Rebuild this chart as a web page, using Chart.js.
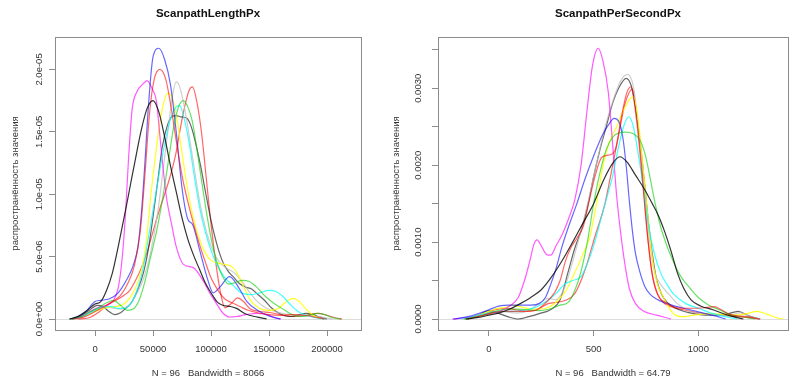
<!DOCTYPE html>
<html><head><meta charset="utf-8">
<script src="https://cdn.jsdelivr.net/npm/chart.js@4/dist/chart.umd.min.js"></script>
<style>
html,body{margin:0;padding:0;background:#fff;overflow:hidden;width:789px;height:385px;}
#c1{position:absolute;left:0;top:0;}
#c2{position:absolute;left:385px;top:0;}
</style></head><body>
<canvas id="c1" width="416" height="385"></canvas>
<canvas id="c2" width="466" height="385"></canvas>
<script>
// ---------- Panel 1: ScanpathLengthPx (x in thousands of px, density in 1e-6) ----------
const titleL = "ScanpathLengthPx";
const xLabelL = "N = 96   Bandwidth = 8066";
const xTicksL = [0, 50000, 100000, 150000, 200000];
const xTickLabelsL = ["0", "50000", "100000", "150000", "200000"];
const yTicksL = [0, 5e-6, 1e-5, 1.5e-5, 2e-5];
const yTickLabelsL = ["0.0e+00", "5.0e-06", "1.0e-05", "1.5e-05", "2.0e-05"];

const magentaL = [[-20,0],[-12,0.2],[-5,0.55],[2,0.9],[10,1.1],[16,1.5],[20,2.5],[23,4.5],[26,8],[29,13],[32,16.8],[36,18.2],[41,18.8],[45,19.1],[49,18.5],[53,17.4],[56,14.6],[59,11.8],[62,9.5],[66,7.6],[70,5.8],[76,4.4],[85,4.1],[93,3.1],[100,1.9],[105,1.2],[110,0.5],[116,0.16],[122,0.2],[130,0.35],[140,0.45],[148,0.35],[155,0.1],[160,0]];
const blueL = [[-22,0],[-15,0.15],[-8,0.6],[0,1.4],[5,1.5],[12,1.6],[20,2.1],[27,3.1],[33,4.3],[37,5.8],[40,8.5],[43,12.5],[46,17],[50,21],[55,21.7],[60,20.8],[65,18.8],[70,15],[75,10.5],[80,8],[84,7.6],[90,5.6],[97,3.2],[102,2.1],[108,2.6],[116,3.4],[124,2.5],[131,1.4],[140,0.7],[150,0.25],[160,0]];
const redL1 = [[-20,0],[-10,0.15],[0,0.6],[8,1.0],[15,1.4],[22,1.9],[28,2.8],[34,4.3],[39,7],[43,11.5],[47,16.5],[51,19.2],[56,20],[61,19.2],[65,17.3],[70,14.3],[75,11.5],[80,9.4],[85,7.6],[90,6],[95,4.6],[100,3.3],[106,2.3],[112,1.6],[118,1.3],[125,1.0],[132,0.7],[140,0.5],[150,0.35],[160,0.3],[170,0.35],[180,0.3],[190,0.15],[198,0]];
const redL2 = [[-15,0],[-5,0.1],[4,0.6],[12,1.2],[20,1.6],[25,1.9],[30,2.3],[35,3.1],[40,4.1],[45,5.4],[50,7],[55,8.6],[60,10],[65,11.5],[70,13.4],[74,15.5],[78,17.3],[81,18.3],[84,18.6],[88,17.3],[92,14.8],[96,11.2],[100,7.6],[104,4.6],[108,2.2],[112,0.9],[117,1.2],[123,1.7],[128,1.4],[134,0.8],[142,0.6],[152,0.5],[162,0.3],[172,0.2],[182,0.3],[192,0.45],[200,0.3],[207,0.1],[213,0]];
const blackL = [[-22,0],[-15,0.2],[-8,0.6],[0,1.2],[5,1.4],[10,2.3],[15,3.7],[20,5.8],[25,8.1],[30,10.5],[35,12.9],[40,15.2],[45,16.9],[50,17.5],[55,16.6],[60,14.6],[65,12.3],[70,10.2],[75,8.1],[80,6.4],[85,5.1],[90,4],[95,2.9],[100,2.1],[105,1.4],[110,1.1],[117,1.0],[122,0.85],[130,0.4],[140,0.15],[148,0]];
const yellowL = [[-20,0],[-10,0.2],[0,0.6],[10,0.9],[18,1.0],[25,1.2],[30,1.7],[35,2.5],[40,3.9],[44,6],[48,9.8],[52,13],[56,15.8],[60,17.6],[63,18.1],[67,17.6],[71,15.8],[75,13.3],[80,10.3],[85,8],[90,6.4],[95,5.3],[100,4.7],[110,4.4],[118,4.2],[123,3.6],[128,2.6],[134,1.5],[142,0.85],[150,0.7],[158,0.85],[165,1.4],[171,1.65],[176,1.4],[182,0.8],[188,0.3],[195,0]];
const greyL = [[-20,0],[-10,0.2],[0,0.7],[8,0.95],[15,0.9],[22,0.8],[28,1.0],[34,1.7],[40,2.8],[45,4.2],[50,6.3],[55,9.2],[59,12.2],[63,15.2],[67,18],[70,19],[73,18.6],[77,17],[81,14.8],[86,11.8],[91,9],[96,7],[101,5.6],[107,4.6],[113,4.1],[120,3.7],[126,3.1],[132,2.3],[139,1.5],[147,0.9],[155,0.6],[165,0.4],[175,0.3],[185,0.3],[195,0.15],[205,0]];
const cyanL = [[-20,0],[-10,0.2],[0,0.7],[8,1.0],[14,1.0],[20,0.85],[26,0.85],[32,1.4],[37,2.5],[42,4.3],[46,6.5],[50,8.7],[55,11.5],[60,14],[65,16],[70,17],[73,17.1],[77,16],[81,14.2],[85,11.8],[90,9],[95,7],[100,5.5],[106,4.2],[112,3.3],[119,2.7],[126,2.1],[134,1.95],[142,2.1],[150,2.3],[156,2.2],[162,1.8],[168,1.2],[175,0.6],[182,0.3],[190,0.1],[198,0]];
const greenL = [[-22,0],[-12,0.2],[-4,0.6],[3,0.9],[10,1.3],[16,1.5],[22,1.1],[28,0.7],[33,0.8],[38,1.5],[43,3],[48,5],[53,7],[58,9.5],[63,12.5],[68,15.5],[72,17],[76,17.5],[80,17],[84,15.8],[88,13.5],[92,11],[96,8.6],[100,6.5],[105,4.6],[110,3.4],[115,2.8],[120,2.9],[127,3.1],[133,3],[140,2.5],[147,1.8],[155,1.2],[162,0.8],[170,0.35],[178,0.2],[185,0.3],[192,0.45],[198,0.35],[205,0.1],[212,0]];
const black2L = [[-20,0],[-12,0.25],[-5,0.7],[2,1.1],[7,1.0],[12,0.6],[17,0.35],[22,0.5],[27,0.9],[32,1.4],[37,2.4],[42,3.8],[46,5.6],[50,8.2],[54,11],[58,13.8],[62,15.4],[66,16.2],[70,16.3],[74,16.2],[79,16.1],[83,15.4],[87,14],[91,12.3],[95,10.3],[100,7.9],[105,6],[110,4.6],[115,3.8],[120,3.3],[125,2.8],[130,2.55],[135,2.4],[140,2],[146,1.5],[152,0.9],[158,0.5],[164,0.25],[170,0.2],[176,0.35],[182,0.45],[188,0.35],[194,0.15],[200,0]];

// ---------- Panel 2: ScanpathPerSecondPx (x in px/s, density in 1e-3) ----------
const titleR = "ScanpathPerSecondPx";
const xLabelR = "N = 96   Bandwidth = 64.79";
const xTicksR = [0, 500, 1000];
const xTickLabelsR = ["0", "500", "1000"];
const yTicksR = [0, 0.0005, 0.001, 0.0015, 0.002, 0.0025, 0.003, 0.0035];
const yTickLabelsR = ["0.0000", "", "0.0010", "", "0.0020", "", "0.0030", ""];

const magentaR = [[-175,0],[-100,0.02],[0,0.07],[50,0.1],[100,0.17],[140,0.28],[170,0.5],[195,0.75],[215,0.97],[230,1.03],[250,0.95],[275,0.84],[295,0.83],[320,0.95],[350,1.1],[380,1.3],[410,1.55],[440,2.0],[470,2.75],[495,3.3],[522,3.52],[545,3.35],[570,2.95],[590,2.3],[610,1.6],[630,1.1],[650,0.7],[670,0.4],[700,0.2],[740,0.1],[800,0.05],[870,0]];
const blueR = [[-170,0],[-100,0.03],[-50,0.07],[0,0.12],[50,0.17],[100,0.18],[150,0.18],[200,0.18],[240,0.2],[270,0.28],[295,0.45],[320,0.65],[350,0.95],[380,1.2],[420,1.5],[460,1.83],[500,2.12],[540,2.38],[570,2.52],[598,2.61],[620,2.57],[640,2.35],[657,1.95],[670,1.55],[685,1.15],[700,0.85],[720,0.62],[745,0.42],[770,0.32],[800,0.26],[840,0.21],[900,0.16],[960,0.12],[1020,0.08],[1080,0.04],[1130,0]];
const blackR = [[-110,0],[-50,0.02],[0,0.05],[50,0.08],[100,0.13],[150,0.2],[200,0.28],[250,0.38],[300,0.55],[350,0.76],[400,1.0],[450,1.25],[500,1.5],[550,1.82],[590,2.02],[625,2.11],[660,2.04],[700,1.87],[740,1.7],[780,1.5],[810,1.34],[840,1.13],[870,0.88],[900,0.6],[930,0.4],[965,0.25],[1010,0.17],[1070,0.12],[1140,0.05],[1215,0]];
const black2R = [[-100,0],[-50,0.05],[0,0.11],[40,0.08],[90,0.03],[140,0.0],[190,0.03],[240,0.07],[300,0.13],[340,0.25],[380,0.63],[410,0.92],[440,1.15],[470,1.45],[500,1.85],[530,2.2],[560,2.5],[590,2.8],[625,3.03],[655,3.13],[680,3.03],[700,2.75],[720,2.35],[740,1.85],[760,1.3],[780,0.85],[800,0.52],[825,0.32],[850,0.22],[900,0.13],[960,0.08],[1050,0.05],[1130,0.06],[1190,0.1],[1240,0.04],[1295,0]];
const greyR = [[-120,0],[-50,0.04],[0,0.09],[60,0.1],[120,0.08],[180,0.1],[240,0.2],[280,0.27],[320,0.25],[360,0.4],[400,0.75],[440,1.15],[480,1.6],[520,2.1],[560,2.55],[600,2.9],[630,3.1],[662,3.18],[690,3.02],[710,2.6],[730,2.05],[750,1.45],[770,0.95],[790,0.62],[820,0.45],[860,0.32],[900,0.2],[960,0.1],[1050,0.06],[1150,0.05],[1200,0.08],[1250,0.03],[1300,0]];
const redR1 = [[-110,0],[-40,0.04],[0,0.07],[60,0.1],[120,0.1],[180,0.1],[220,0.11],[267,0.2],[315,0.35],[340,0.5],[365,0.75],[390,0.92],[420,1.05],[450,1.2],[480,1.55],[506,1.85],[538,2.1],[570,2.13],[602,2.19],[633,2.63],[657,2.93],[678,3.02],[705,2.58],[729,1.93],[753,1.2],[777,0.63],[809,0.3],[840,0.22],[880,0.16],[944,0.14],[1000,0.14],[1040,0.15],[1075,0.16],[1110,0.12],[1150,0.06],[1230,0.03],[1294,0]];
const redR2 = [[-115,0],[-35,0.05],[30,0.12],[80,0.14],[130,0.12],[180,0.1],[220,0.11],[283,0.2],[330,0.22],[363,0.24],[410,0.33],[458,0.63],[506,1.07],[554,1.5],[586,1.93],[618,2.37],[650,2.8],[685,2.99],[705,2.67],[732,1.93],[758,1.07],[785,0.5],[825,0.24],[870,0.16],[930,0.12],[1000,0.08],[1080,0.06],[1150,0.04],[1230,0.02],[1290,0]];
const yellowR = [[-110,0],[-50,0.05],[0,0.1],[40,0.14],[80,0.15],[110,0.18],[150,0.16],[200,0.13],[250,0.13],[290,0.16],[330,0.24],[370,0.38],[410,0.6],[450,0.85],[480,1.05],[500,1.3],[520,1.6],[545,2.0],[575,2.3],[610,2.5],[640,2.7],[670,2.85],[690,2.89],[710,2.65],[735,2.0],[760,1.3],[785,0.7],[805,0.45],[830,0.3],[855,0.17],[880,0.07],[920,0.03],[980,0.05],[1050,0.07],[1120,0.06],[1180,0.05],[1230,0.07],[1280,0.1],[1330,0.06],[1370,0.02],[1405,0]];
const cyanR = [[-130,0],[-60,0.04],[0,0.08],[60,0.1],[120,0.1],[180,0.12],[230,0.16],[280,0.24],[320,0.33],[360,0.45],[400,0.5],[440,0.55],[470,0.72],[500,0.95],[530,1.25],[560,1.55],[590,1.85],[620,2.25],[645,2.52],[668,2.63],[690,2.5],[710,2.2],[730,1.85],[760,1.25],[790,0.85],[820,0.6],[850,0.45],[880,0.33],[940,0.2],[1000,0.14],[1070,0.07],[1130,0.03],[1185,0]];
const greenR = [[-120,0],[-50,0.03],[0,0.07],[60,0.12],[120,0.13],[180,0.12],[240,0.11],[290,0.13],[340,0.18],[380,0.22],[410,0.37],[440,0.62],[470,1.0],[500,1.5],[530,1.9],[560,2.2],[590,2.36],[620,2.42],[650,2.43],[690,2.41],[720,2.33],[745,2.15],[765,1.9],[790,1.55],[820,1.2],[850,0.95],[880,0.75],[910,0.58],[945,0.45],[1000,0.28],[1050,0.18],[1100,0.12],[1160,0.05],[1230,0.02],[1270,0]];

// ---------- styling ----------
const FONT = "'Liberation Sans', Arial, Helvetica, sans-serif";
const COL = {
  black: 'rgba(0,0,0,0.8)', red: 'rgba(255,0,0,0.6)', green: 'rgba(0,205,0,0.6)', blue: 'rgba(0,0,255,0.6)',
  cyan: 'rgba(0,255,255,0.75)', magenta: 'rgba(255,0,255,0.65)', yellow: 'rgba(255,255,0,0.85)',
  gray: 'rgba(190,190,190,0.75)', black2: 'rgba(0,0,0,0.6)', red2: 'rgba(255,0,0,0.6)'
};

function ds(pairs, color, xs, ys) {
  return {
    data: pairs.map(p => ({x: p[0] * xs, y: p[1] * ys})),
    borderColor: color, borderWidth: 1.2, pointRadius: 0, fill: false,
    cubicInterpolationMode: 'monotone'
  };
}

const boxPlugin = {
  id: 'box',
  beforeDatasetsDraw(chart) {
    const a = chart.chartArea, c = chart.ctx;
    c.save(); c.strokeStyle = '#8c8c8c'; c.lineWidth = 1;
    c.strokeRect(Math.round(a.left) + 0.5, Math.round(a.top) + 0.5, Math.round(a.right - a.left), Math.round(a.bottom - a.top));
    c.restore();
  }
};

function makeChart(id, cfg) {
  return new Chart(document.getElementById(id), {
    type: 'line',
    data: { datasets: cfg.datasets },
    plugins: [boxPlugin],
    options: {
      responsive: false, animation: false, devicePixelRatio: 1,
      layout: { padding: 0 },
      plugins: {
        legend: { display: false }, tooltip: { enabled: false },
        title: { display: true, text: cfg.title, color: '#111',
          font: { family: FONT, size: 11.5, weight: 'bold' }, padding: { top: 7.1, bottom: 16.1 } }
      },
      scales: {
        x: {
          type: 'linear', min: cfg.xMin, max: cfg.xMax,
          afterBuildTicks: s => { s.ticks = cfg.xTicks.map(v => ({value: v})); },
          afterFit: s => { s.height = 55; },
          ticks: { callback: (v, i) => cfg.xTickLabels[i], font: { family: FONT, size: 9.5 }, color: '#333',
            padding: 7.3, autoSkip: false, maxRotation: 0, minRotation: 0 },
          grid: { drawOnChartArea: false, drawTicks: true, tickLength: 6, tickColor: '#8c8c8c', tickWidth: 1 },
          border: { display: false },
          title: { display: true, text: cfg.xLabel, color: '#333', font: { family: FONT, size: 9.5 }, padding: { top: 0, bottom: 6.3 } }
        },
        y: {
          type: 'linear', min: cfg.yMin, max: cfg.yMax,
          afterBuildTicks: s => { s.ticks = cfg.yTicks.map(v => ({value: v})); },
          afterFit: s => { s.width = cfg.yWidth; },
          ticks: { callback: (v, i) => cfg.yTickLabels[i], font: { family: FONT, size: 9.5 }, color: '#333',
            minRotation: 90, maxRotation: 90, crossAlign: 'center', padding: cfg.yPad, autoSkip: false },
          grid: { drawOnChartArea: true, drawTicks: true, tickLength: 6, tickColor: '#8c8c8c', tickWidth: 1, lineWidth: 1,
            color: c => (c.tick && c.tick.value === 0) ? '#dcdcdc' : 'rgba(0,0,0,0)' },
          border: { display: false },
          title: { display: true, text: 'распространённость значения', color: '#333',
            font: { family: FONT, size: 9.5 }, padding: { top: cfg.yTitlePad, bottom: 0 } }
        },
        pad: {
          type: 'linear', position: 'right', display: true,
          ticks: { display: false }, grid: { display: false }, border: { display: false },
          afterFit: s => { s.width = cfg.padRight; }
        }
      }
    }
  });
}

makeChart('c1', {
  title: titleL, xLabel: xLabelL, xTicks: xTicksL, xTickLabels: xTickLabelsL,
  yTicks: yTicksL, yTickLabels: yTickLabelsL,
  xMin: -34500, xMax: 229300, yMin: -8.8e-7, yMax: 2.26e-5,
  yWidth: 55, padRight: 55, yPad: -7.3, yTitlePad: 9.3,
  datasets: [
    ds(blackL, COL.black, 1000, 1e-6), ds(redL1, COL.red, 1000, 1e-6), ds(greenL, COL.green, 1000, 1e-6),
    ds(blueL, COL.blue, 1000, 1e-6), ds(cyanL, COL.cyan, 1000, 1e-6), ds(magentaL, COL.magenta, 1000, 1e-6),
    ds(yellowL, COL.yellow, 1000, 1e-6), ds(greyL, COL.gray, 1000, 1e-6), ds(black2L, COL.black2, 1000, 1e-6),
    ds(redL2, COL.red2, 1000, 1e-6)
  ]
});

makeChart('c2', {
  title: titleR, xLabel: xLabelR, xTicks: xTicksR, xTickLabels: xTickLabelsR,
  yTicks: yTicksR, yTickLabels: yTickLabelsR,
  xMin: -243, xMax: 1428, yMin: -0.000143, yMax: 0.003667,
  yWidth: 53, padRight: 63, yPad: -0.5, yTitlePad: 5.3,
  datasets: [
    ds(blackR, COL.black, 1, 1e-3), ds(redR1, COL.red, 1, 1e-3), ds(greenR, COL.green, 1, 1e-3),
    ds(blueR, COL.blue, 1, 1e-3), ds(cyanR, COL.cyan, 1, 1e-3), ds(magentaR, COL.magenta, 1, 1e-3),
    ds(yellowR, COL.yellow, 1, 1e-3), ds(greyR, COL.gray, 1, 1e-3), ds(black2R, COL.black2, 1, 1e-3),
    ds(redR2, COL.red2, 1, 1e-3)
  ]
});
</script>
</body></html>
